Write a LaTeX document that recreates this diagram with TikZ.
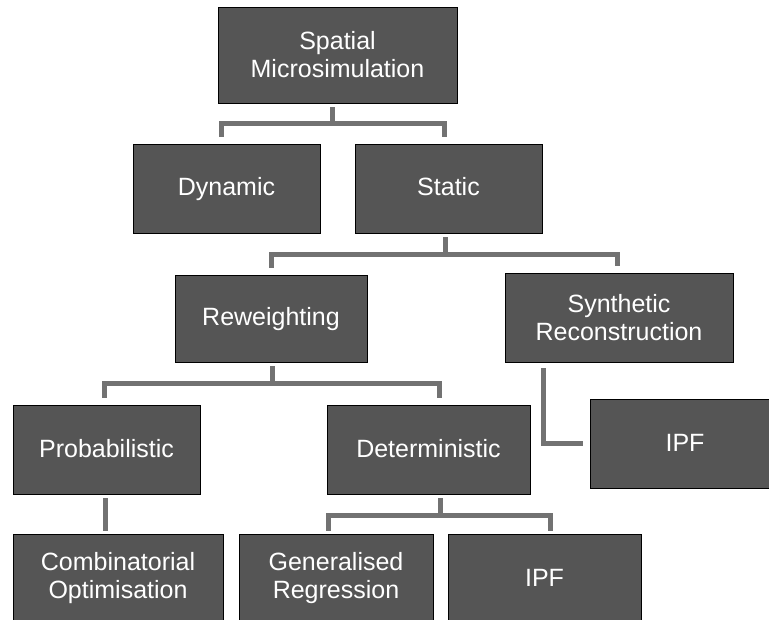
\documentclass[tikz,border=0pt]{standalone}
\usepackage{fontspec}
\setmainfont{Liberation Sans}
\definecolor{BoxGrey}{HTML}{555555}
\definecolor{LinkGrey}{HTML}{727272}
\definecolor{BoxBlack}{HTML}{000000}
\definecolor{BoxWhite}{HTML}{FFFFFF}
\usepackage{tikz}
\usetikzlibrary{positioning}
\tikzset{
    box/.style={
        draw=BoxBlack,
        line width=0.9pt,
        fill=BoxGrey,
        minimum width=187pt,
        minimum height=89pt,
        text=BoxWhite,
        font=\fontsize{25}{28}\selectfont,
        align=center,
        inner sep=2pt
    },
    oneline/.style={
        text height=18pt,
        text depth=3pt
    },
    link/.style={
        draw=LinkGrey,
        line width=5pt,
        line join=miter,
        shorten <=4pt,
        shorten >=7pt
    }
}
\begin{document}
\begin{tikzpicture}[x=1pt, y=-1pt]
        \clip (0,0) rectangle (769,620);
        \useasboundingbox (0,0) rectangle (769,620);

        % Top level
        \node[box, minimum width=239pt, minimum height=96pt] (spatial) at (337.5,55) {Spatial\\Microsimulation};

        % Second level
        \node[box, oneline] (dynamic) at (226.5,188.5) {Dynamic};
        \node[box, oneline] (static) at (448.5,188.5) {Static};

        % Third level
        \node[box, oneline, minimum width=192pt, minimum height=87pt] (reweighting) at (271,318.5) {Reweighting};
        \node[box, minimum width=228pt] (synthetic) at (619,317.5) {Synthetic\\Reconstruction};

        % Fourth level
        \node[box, oneline] (probabilistic) at (106.5,449.5) {Probabilistic};
        \node[box, oneline, minimum width=203pt] (deterministic) at (428.5,449.5) {Deterministic};
        \node[box, oneline, minimum width=190pt] (ipfsynth) at (685,443.5) {IPF};

        % Bottom level
        \node[box, minimum width=210pt] (combinatorial) at (118,578.5) {Combinatorial\\Optimisation};
        \node[box, minimum width=194pt] (generalised) at (336,578.5) {Generalised\\Regression};
        \node[box, oneline, minimum width=193pt] (ipfdet) at (544.5,578.5) {IPF};

        % Connectors
        \draw[link] ([xshift=-5.5]spatial.south) -- ++(0,20) -| ([xshift=-5.5]dynamic.north);
        \draw[link] ([xshift=-5.5]spatial.south) -- ++(0,20) -| ([xshift=-4.5]static.north);

        \draw[link] ([xshift=-3.5]static.south) -- ++(0,21) -| (reweighting.north);
        \draw[link] ([xshift=-3.5]static.south) -- ++(0,21) -| ([xshift=-2]synthetic.north);

        \draw[link] ([xshift=1]reweighting.south) -- ++(0,21) -| ([xshift=-2.5]probabilistic.north);
        \draw[link] ([xshift=1]reweighting.south) -- ++(0,21) -| ([xshift=10.5]deterministic.north);

        \draw[link, shorten >=3pt] ([xshift=11.5]deterministic.south) -- ++(0,21) -| ([xshift=-8]generalised.north);
        \draw[link, shorten >=3pt] ([xshift=11.5]deterministic.south) -- ++(0,21) -| ([xshift=5.5]ipfdet.north);

        \draw[link, shorten >=3pt] ([xshift=-1.5]probabilistic.south) -- ([xshift=-1.5]probabilistic.south |- combinatorial.north);
        \draw[link, shorten <=6pt] ([xshift=-76]synthetic.south) |- (ipfsynth.west);
    \end{tikzpicture}
\end{document}
